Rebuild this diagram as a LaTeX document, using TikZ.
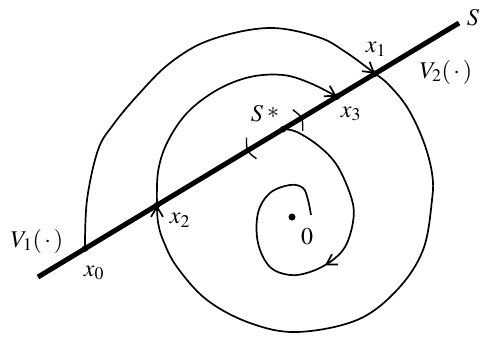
\documentclass[tikz,border=0pt]{standalone}
\usepackage{mathptmx}
\usetikzlibrary{arrows.meta,decorations.markings,calc}
\begin{document}
\begin{tikzpicture}[x=1pt,y=-1pt,
  lbl/.style={inner sep=0pt, font=\fontsize{24}{28}\selectfont},
  curve/.style={line width=1.7pt, line join=round},
  barb/.style={-{Straight Barb[length=10pt,width=12pt]}},
  thickline/.style={line width=5pt},
  ptdot/.style={fill=black},
  ticktick/.style={line width=1.4pt}]
\useasboundingbox (0,0) rectangle (483,343);
\coordinate (s0) at (38,277);
\coordinate (s1) at (459,23);
\coordinate (x0) at ($(s0)!0.1116!(s1)$);
\coordinate (x2) at ($(s0)!0.2827!(s1)$);
\coordinate (ss) at ($(s0)!0.582!(s1)$);
\coordinate (x3) at ($(s0)!0.710!(s1)$);
\coordinate (x1) at ($(s0)!0.8005!(s1)$);
\coordinate (c1) at ($(s0)!0.507!(s1)$);
\coordinate (c2) at ($(s0)!0.617!(s1)$);
\coordinate (zero) at (292,217);
% curves
\draw[curve,barb] plot[smooth,tension=0.6] coordinates {(x0) (87,200) (98,150) (113,125) (137,96) (170,63) (210,40) (268,28) (318,37) (347,53) (x1)};
\draw[curve,barb] plot[smooth,tension=0.6] coordinates {(x1) (388,84) (407,107) (423,140) (432,173) (432,200) (423,250) (397,290) (357,320) (297,332) (250,323) (207,300) (177,267) (163,240) (158,222) (x2)};
\draw[curve,barb] plot[smooth,tension=0.6] coordinates {(x2) (158,172) (167,143) (187,113) (217,90) (250,77) (283,75) (310,83) (x3)};
\draw[curve,postaction={decorate,decoration={markings,mark=at position 0.47 with {\arrow{Straight Barb[length=10pt,width=12pt]}}}}]
  plot[smooth,tension=0.6] coordinates {(ss) (297,132) (320,147) (338,167) (352,200) (353,222) (345,247) (330,262) (310,272) (290,275) (270,267) (258,243) (258,213) (270,193) (290,185) (303,188) (308,200) (311,215)};
% the line S
\draw[thickline] (s0) -- (s1);
% ticks
\draw[ticktick] ($(c1)+(-5,-10.5)$) .. controls ($(c1)+(-5,3)$) .. ($(c1)+(5,10.5)$);
\draw[ticktick] ($(c2)+(-5,-10.5)$) .. controls ($(c2)+(5,-3)$) .. ($(c2)+(5,10.5)$);
% dots
\foreach \p in {x0,x2,ss,x3,x1} \fill[ptdot] (\p) circle (3.2);
\fill[ptdot] (zero) circle (3.5);
% labels
\node[lbl] (lS) at (473,18) {$S$};
\node[lbl] (lV2) at (446,72) {$V_2(\,\cdot\,)$};
\node[lbl] (lV1) at (37,241) {$V_1(\,\cdot\,)$};
\node[lbl] (l0) at (94,273) {$x_0$};
\node[lbl] (l2) at (180,220) {$x_2$};
\node[lbl] (lSs) at (265,114) {$S$\,\raisebox{0.12em}{$\ast$}};
\node[lbl] (l3) at (351,114) {$x_3$};
\node[lbl] (l1) at (376,49) {$x_1$};
\node[lbl] (lz) at (307,237) {$0$};
\end{tikzpicture}
\end{document}
